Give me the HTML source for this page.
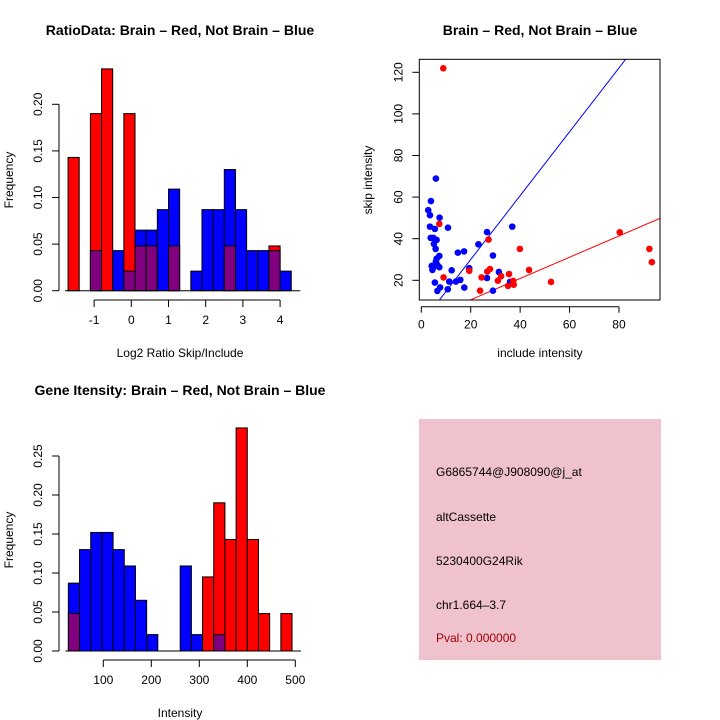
<!DOCTYPE html>
<html><head><meta charset="utf-8"><style>
body{margin:0;background:#fff}
svg{display:block;font-family:"Liberation Sans",sans-serif}
</style></head><body>
<svg id="c" width="720" height="720" viewBox="0 0 720 720">
<text x="180" y="35" font-size="14" font-weight="bold" text-anchor="middle">RatioData: Brain – Red, Not Brain – Blue</text>
<text x="540" y="35" font-size="14" font-weight="bold" text-anchor="middle">Brain – Red, Not Brain – Blue</text>
<text x="180" y="395" font-size="14" font-weight="bold" text-anchor="middle">Gene Itensity: Brain – Red, Not Brain – Blue</text>
<text x="180" y="357" font-size="12" text-anchor="middle">Log2 Ratio Skip/Include</text>
<text x="13" y="180" font-size="12" text-anchor="middle" transform="rotate(-90 13 180)">Frequency</text>
<text x="540" y="357" font-size="12" text-anchor="middle">include intensity</text>
<text x="372" y="180" font-size="12" text-anchor="middle" transform="rotate(-90 372 180)">skip intensity</text>
<text x="180" y="717" font-size="12" text-anchor="middle">Intensity</text>
<text x="13" y="540" font-size="12" text-anchor="middle" transform="rotate(-90 13 540)">Frequency</text>
<g>
<rect x="419" y="419" width="242" height="241" fill="#f0c2cd"/>
<text x="436" y="476" font-size="12">G6865744@J908090@j_at</text>
<text x="436" y="521" font-size="12">altCassette</text>
<text x="436" y="565" font-size="12">5230400G24Rik</text>
<text x="436" y="609" font-size="12">chr1.664–3.7</text>
<text x="436" y="642" font-size="12" fill="#a00000">Pval: 0.000000</text>
</g>
</svg>
<script>
const ratioBlue=[0,0,0.043,0,0.043,0.021,0.065,0.065,0.087,0.109,0,0.021,0.087,0.087,0.13,0.087,0.043,0.043,0.043,0.021];
const ratioRed=[0.143,0,0.19,0.238,0,0.19,0.048,0.048,0,0.048,0,0,0,0,0.048,0,0,0,0.048,0];
const ratioStart=-1.7, ratioBinW=0.3;
const ratioXTicks=[-1,0,1,2,3,4];
const ratioYTicks=["0.00","0.05","0.10","0.15","0.20"];
const intBlue=[0.087,0.13,0.152,0.152,0.13,0.109,0.065,0.021,0,0,0.109,0.021,0,0.021,0,0,0,0,0,0];
const intRed=[0.048,0,0,0,0,0,0,0,0,0,0,0,0.095,0.19,0.143,0.286,0.143,0.048,0,0.048];
const intStart=27.2, intBinW=23.3;
const intXTicks=[100,200,300,400,500];
const intYTicks=["0.00","0.05","0.10","0.15","0.20","0.25"];
const blueX=[2.8,3.5,3.9,5.9,7.4,3.5,5.5,10.8,3.8,4.9,6.2,5.1,5.8,7.3,6.2,5.9,4.2,5.1,6.5,7.3,4.5,5.5,6.5,7.6,10.7,11.3,12.3,14,15.8,14.8,17.3,17.4,19.4,23.1,26.6,26.6,29,29,31.4,35.9,36.8];
const blueY=[53.7,51.3,58.1,68.9,50.1,45.8,44.7,45.3,40.4,40.4,39.4,37.5,35.1,31.7,30.4,29,26.9,26.6,27.4,26.3,25,18.9,14.9,16.6,15.7,19.4,24.8,19.4,20.2,33.3,33.9,16.5,25.8,37.3,43.2,21.1,31.9,15,24,19.2,45.8];
const redX=[8.9,7.3,9,19.4,23.8,24.4,27.2,26.7,27.8,31,32.3,35.5,35.1,37.2,37.4,39.9,43.6,52.5,80.3,92.3,93.3];
const redY=[121.9,47.1,21.4,24.6,15,21.4,39.6,24.2,25.4,19.8,22,23,17.3,19.7,17.9,35.1,25,19.2,43.1,35.1,28.7];
const blueFit=[-0.7,1.535], redFit=[0.43,0.511];
const scX=[0,20,40,60,80], scY=[20,40,60,80,100,120];

const svg=document.getElementById('c'), NS='http://www.w3.org/2000/svg';
function mk(t,a,p){const e=document.createElementNS(NS,t);for(const k in a)e.setAttribute(k,a[k]);(p||svg).appendChild(e);return e;}

function hist(blue,red,start,bw,xT,yT,sx,sy,yAxisX,xAxisY,pre){
  const g=mk('g',{});
  
  
  for(let i=0;i<blue.length;i++){
    const x0=sx(start+i*bw), x1=sx(start+(i+1)*bw);
    const b=blue[i], r=red[i];
    const hi=Math.max(b,r), lo=Math.min(b,r);
    if(hi>0){
      const e=mk('rect',{x:x0,y:sy(hi),width:x1-x0,height:sy(0)-sy(hi),fill:b>=r?'#0000ff':'#ff0000',stroke:'#000','stroke-width':1},g);
      
      
    }
    if(lo>0){
      const e=mk('rect',{x:x0,y:sy(lo),width:x1-x0,height:sy(0)-sy(lo),fill:'#800080',stroke:'#000','stroke-width':1},g);
      
      
    }
  }
  const x0=sx(start), x1=sx(start+blue.length*bw);
  mk('line',{x1:x0-3,x2:x1+9,y1:sy(0),y2:sy(0),stroke:'#000'},g);
  const yv=yT.map(Number);
  mk('line',{x1:yAxisX,x2:yAxisX,y1:sy(yv[0]),y2:sy(yv[yv.length-1]),stroke:'#000'},g);
  yT.forEach(t=>{const y=sy(+t);mk('line',{x1:yAxisX-7,x2:yAxisX,y1:y,y2:y,stroke:'#000'},g);
    const tx=mk('text',{x:yAxisX-17,y:y,'font-size':12,'text-anchor':'middle',transform:`rotate(-90 ${yAxisX-17} ${y})`},g);tx.textContent=t;});
  mk('line',{x1:sx(xT[0]),x2:sx(xT[xT.length-1]),y1:xAxisY,y2:xAxisY,stroke:'#000'},g);
  xT.forEach(t=>{const x=sx(t);mk('line',{x1:x,x2:x,y1:xAxisY,y2:xAxisY+7,stroke:'#000'},g);
    const tx=mk('text',{x:x,y:xAxisY+24,'font-size':12,'text-anchor':'middle'},g);tx.textContent=t;});
}
hist(ratioBlue,ratioRed,ratioStart,ratioBinW,ratioXTicks,ratioYTicks,
  v=>131.3+v*37.2, v=>290.7-v*932, 59, 300,'ratio');
hist(intBlue,intRed,intStart,intBinW,intXTicks,intYTicks,
  v=>103.3+(v-100)*0.48, v=>651-v*780, 59, 660,'intensity');

// scatter
const SX=v=>421.3+v*2.471, SY=v=>72.3+(120-v)*2.08;
const sg=mk('g',{});


const L=419.3,R=660,T=59.3,B=300;
const cp=mk('clipPath',{id:'sclip'},sg);mk('rect',{x:L,y:T,width:R-L,height:B-T},cp);
const xmin=(L-421.3)/2.471, xmax=(R-421.3)/2.471;
[[blueFit,'#0000ff','blue-fit-line'],[redFit,'#ff0000','red-fit-line']].forEach(([f,c,n])=>{
  const e=mk('line',{x1:SX(xmin),y1:SY(f[0]+f[1]*xmin),x2:SX(xmax),y2:SY(f[0]+f[1]*xmax),stroke:c,'stroke-width':1,'clip-path':'url(#sclip)'},sg);
  
  
});
blueX.forEach((x,i)=>{const e=mk('circle',{cx:SX(x),cy:SY(blueY[i]),r:3.3,fill:'#0000ff'},sg);
  
  });
redX.forEach((x,i)=>{const e=mk('circle',{cx:SX(x),cy:SY(redY[i]),r:3.3,fill:'#ff0000'},sg);
  
  });
mk('rect',{x:L,y:T,width:R-L,height:B-T,fill:'none',stroke:'#000'},sg);
const XA=306.7;
mk('line',{x1:SX(scX[0]),x2:SX(scX[scX.length-1]),y1:XA,y2:XA,stroke:'#000'},sg);
scX.forEach(t=>{const x=SX(t);mk('line',{x1:x,x2:x,y1:XA,y2:XA+6,stroke:'#000'},sg);
  const tx=mk('text',{x:x,y:XA+22,'font-size':12,'text-anchor':'middle'},sg);tx.textContent=t;});
scY.forEach(t=>{const y=SY(t);mk('line',{x1:L-7,x2:L,y1:y,y2:y,stroke:'#000'},sg);
  const tx=mk('text',{x:L-17,y:y,'font-size':12,'text-anchor':'middle',transform:`rotate(-90 ${L-17} ${y})`},sg);tx.textContent=t;});
</script>
</body></html>
